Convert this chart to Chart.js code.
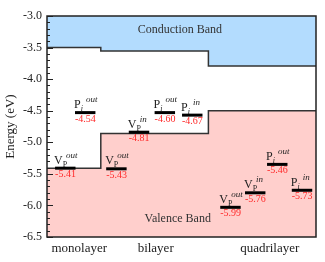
<!DOCTYPE html>
<html><head><meta charset="utf-8">
<script src="https://cdn.jsdelivr.net/npm/chart.js@4/dist/chart.umd.min.js"></script>
<style>html,body{margin:0;padding:0;background:#fff}#wrap{width:325px;height:262px;position:relative}</style>
</head><body><div id="wrap"><canvas id="c"></canvas></div>
<script>
// ---- data ----
const categories = ['monolayer', 'bilayer', 'quadrilayer'];
const categoryTickX = [0.6, 2.02, 4.14];
const bandEdges = [0, 1, 3, 5];
const conductionMin = [-3.50, -3.555, -3.79];
const valenceMax = [-5.41, -4.86, -4.50];
const levelBase = ['V', 'P', 'V', 'V', 'P', 'P', 'V', 'V', 'P', 'P'];
const levelSub = ['P', 'i', 'P', 'P', 'i', 'i', 'P', 'P', 'i', 'i'];
const levelSup = ['out', 'out', 'out', 'in', 'out', 'in', 'out', 'in', 'out', 'in'];
const levelText = ['-5.41', '-4.54', '-5.43', '-4.81', '-4.60', '-4.67', '-5.99', '-5.76', '-5.46', '-5.73'];
const levelEnergy = [-5.41, -4.53, -5.42, -4.84, -4.53, -4.57, -6.03, -5.80, -5.35, -5.76];
const levelX = [0.15, 0.52, 1.10, 1.52, 2.00, 2.51, 3.22, 3.68, 4.09, 4.55];
const levelWidth = 0.38;
const yMin = -6.5, yMax = -3.0;

const SERIF = '"Liberation Serif", "DejaVu Serif", serif';

function stepPoints(vals) {
  const pts = vals.map((v, i) => ({x: bandEdges[i], y: v}));
  pts.push({x: bandEdges[bandEdges.length - 1], y: vals[vals.length - 1]});
  return pts;
}

const datasets = [];
levelEnergy.forEach((v, i) => {
  datasets.push({
    data: [{x: levelX[i], y: v}, {x: levelX[i] + levelWidth, y: v}],
    borderColor: '#000', borderWidth: 3, pointRadius: 0, fill: false, order: 0
  });
});
datasets.push({
  data: stepPoints(conductionMin), stepped: 'before', fill: 'end',
  backgroundColor: '#b3dcfe', borderColor: '#333', borderWidth: 1.5, pointRadius: 0, order: 10
});
datasets.push({
  data: stepPoints(valenceMax), stepped: 'before', fill: 'start',
  backgroundColor: '#ffcfcc', borderColor: '#333', borderWidth: 1.5, pointRadius: 0, order: 10
});

const overlay = {
  id: 'overlay',
  afterDatasetsDraw(chart) {
    const ctx = chart.ctx, xs = chart.scales.x, ys = chart.scales.y, a = chart.chartArea;
    ctx.save();
    // band labels
    ctx.fillStyle = '#333';
    ctx.font = '12px ' + SERIF;
    ctx.textAlign = 'center';
    ctx.textBaseline = 'middle';
    ctx.fillText('Conduction Band', xs.getPixelForValue(2.47), ys.getPixelForValue(-3.22));
    ctx.fillText('Valence Band', xs.getPixelForValue(2.43), ys.getPixelForValue(-6.22));
    // level labels
    ctx.textAlign = 'left';
    ctx.textBaseline = 'alphabetic';
    levelEnergy.forEach((v, i) => {
      const x0 = xs.getPixelForValue(levelX[i]);
      const y = ys.getPixelForValue(v);
      ctx.fillStyle = '#222';
      ctx.font = '12px ' + SERIF;
      ctx.fillText(levelBase[i], x0 - 1, y - 4.5);
      const w = ctx.measureText(levelBase[i]).width;
      ctx.font = (levelSub[i] === 'i' ? 'italic ' : '') + '8px ' + SERIF;
      ctx.fillText(levelSub[i], x0 - 1 + w, y - 1.5);
      ctx.font = 'italic 9px ' + SERIF;
      ctx.fillText(levelSup[i], x0 + 11, y - 10.5);
      ctx.fillStyle = '#ff2a2a';
      ctx.font = '10px ' + SERIF;
      ctx.fillText(levelText[i], x0, y + 9);
    });
    // minor / major ticks on left axis (inward)
    ctx.strokeStyle = '#222';
    ctx.lineWidth = 1;
    for (let k = 0; k <= 35; k++) {
      const v = yMax - k * 0.1;
      const py = Math.round(ys.getPixelForValue(v)) + 0.5;
      const len = (k % 5 === 0) ? 6 : 3;
      ctx.beginPath();
      ctx.moveTo(a.left, py);
      ctx.lineTo(a.left + len, py);
      ctx.stroke();
    }
    // frame
    ctx.lineWidth = 1.5;
    ctx.strokeRect(a.left, a.top, a.right - a.left, a.bottom - a.top);
    ctx.restore();
  }
};

new Chart(document.getElementById('c'), {
  type: 'line',
  data: {datasets},
  options: {
    responsive: true, maintainAspectRatio: false, animation: false,
    layout: {padding: {top: 16, right: 9, left: 0, bottom: 0}},
    plugins: {legend: {display: false}, tooltip: {enabled: false}},
    scales: {
      x: {
        type: 'linear', min: 0, max: 5,
        grid: {display: false, drawTicks: false},
        border: {display: false},
        afterBuildTicks: s => { s.ticks = categoryTickX.map(v => ({value: v})); },
        ticks: {
          autoSkip: false, maxRotation: 0, padding: 4,
          color: '#222', font: {family: SERIF, size: 13},
          callback: (v, i) => categories[i]
        },
        afterFit: s => { s.height = 25; }
      },
      y: {
        type: 'linear', min: yMin, max: yMax,
        grid: {display: false, drawTicks: false},
        border: {display: false},
        ticks: {
          stepSize: 0.5, padding: 5, color: '#222',
          font: {family: SERIF, size: 12},
          callback: v => v.toFixed(1)
        },
        title: {display: true, text: 'Energy (eV)', color: '#222',
          font: {family: SERIF, size: 13}, padding: {top: 3, bottom: 0}},
        afterFit: s => { s.width = 47; }
      }
    }
  },
  plugins: [overlay]
});
</script>
</body></html>
